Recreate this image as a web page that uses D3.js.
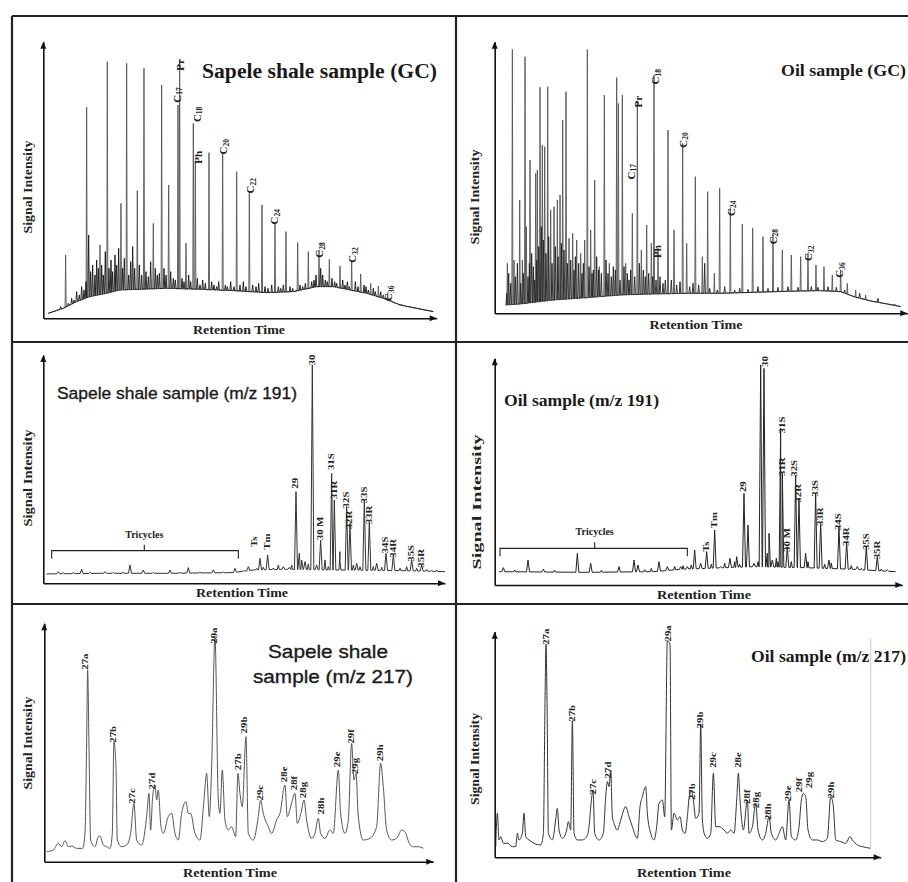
<!DOCTYPE html>
<html><head><meta charset="utf-8">
<script src="https://cdn.jsdelivr.net/npm/d3@7"></script>
<style>html,body{margin:0;padding:0;background:#fff;}svg{display:block;}</style>
</head><body>
<svg id="chart" width="908" height="882"></svg>
<script>
// ---------------- DATA (retention time index t, signal intensity I, arbitrary units) ----------------
// Panel 1: Sapele shale sample (GC)
const gcShaleBaseline = [[15,15],[60,30],[100,50],[140,65],[190,75],[230,85],[290,87],[370,90],[470,87],[570,83],[670,77],[750,80],[820,95],[870,95],[920,85],[970,75],[1020,60],[1070,40],[1120,30],[1170,20]];
const gcShalePeaks = [[67,190],[130,633],[170,220],[192,770],[233,345],[250,765],[282,383],[302,750],[330,285],[355,700],[376,400],[404,640],[409,775],[428,225],[450,585],[456,470],[497,497],[538,497],[580,440],[618,375],[656,340],[695,283],[728,260],[763,227],[795,200],[827,205],[858,177],[890,157],[925,170],[952,133],[982,105],[1005,97],[1033,75]];
const gcShaleMinor = [[40,25],[52,35],[75,45],[85,60],[92,55],[100,80],[108,70],[115,95],[122,85],[128,110],[136,250],[142,140],[148,160],[155,130],[160,175],[165,150],[175,160],[180,130],[186,200],[197,150],[203,175],[208,140],[215,190],[220,160],[226,210],[238,150],[243,180],[256,130],[262,170],[268,215],[274,150],[288,160],[295,130],[308,140],[315,125],[322,170],[336,150],[342,130],[348,135],[362,150],[368,130],[382,140],[390,120],[396,115],[416,120],[422,110],[436,130],[442,110],[462,120],[470,100],[478,115],[486,105],[505,110],[512,100],[520,95],[526,110],[546,100],[552,95],[562,110],[572,95],[590,100],[600,110],[608,95],[628,100],[638,95],[646,105],[665,95],[674,90],[685,100],[705,95],[712,90],[720,100],[740,95],[748,90],[770,100],[778,95],[786,105],[805,110],[812,115],[818,130],[832,150],[838,130],[846,115],[852,110],[866,120],[874,110],[880,105],[898,115],[905,100],[912,110],[918,95],[936,110],[944,95],[962,100],[968,95],[975,85],[990,90],[996,80],[1012,80],[1020,70],[1042,55],[1050,50],[1062,45],[1075,42],[1090,35]];
const gcShaleLabels = [["C","17",400,670],["Pr","",411,760],["C","18",460,612],["Ph","",465,483],["C","20",540,515],["C","22",620,398],["C","24",692,305],["C","28",827,205],["C","32",926,190],["C","36",1034,75]];

// Panel 2: Oil sample (GC)
const gcOilBaseline = [[33,25],[78,28],[178,40],[278,47],[378,55],[478,58],[578,60],[678,60],[778,63],[878,66],[978,68],[1038,65],[1078,50],[1128,37],[1178,28],[1218,20]];
const gcOilPeaks = [[38,150],[53,792],[58,160],[75,340],[83,160],[91,770],[95,260],[106,460],[123,420],[128,430],[136,678],[143,505],[150,500],[159,680],[168,310],[178,320],[188,340],[196,355],[204,580],[214,665],[223,225],[234,240],[246,220],[258,180],[270,220],[278,792],[288,250],[300,400],[314,140],[329,655],[344,150],[366,707],[371,630],[383,655],[393,150],[413,300],[428,635],[440,190],[456,265],[470,210],[478,715],[490,195],[520,550],[538,250],[564,510],[576,210],[602,410],[623,170],[639,365],[659,120],[675,375],[707,315],[743,268],[774,255],[805,230],[835,235],[863,190],[890,175],[918,170],[940,180],[964,145],[988,140],[1013,115],[1038,130],[1058,90],[1083,70],[1113,55]];
const gcOilMinor = [[36,60],[42,120],[48,90],[62,110],[68,150],[78,90],[86,120],[100,110],[104,150],[111,180],[116,140],[120,100],[126,160],[132,200],[140,260],[146,220],[154,180],[162,230],[172,150],[182,200],[190,170],[200,210],[208,190],[218,150],[228,160],[238,130],[242,170],[252,150],[262,120],[266,150],[283,140],[292,120],[296,130],[306,170],[312,130],[320,120],[334,160],[340,120],[350,110],[356,140],[362,130],[376,100],[388,140],[398,120],[403,100],[408,130],[420,110],[434,150],[446,130],[452,110],[462,120],[474,110],[484,100],[496,110],[505,90],[512,100],[530,100],[546,85],[556,95],[585,80],[595,90],[612,85],[630,150],[645,75],[668,70],[690,80],[720,70],[735,75],[760,72],[790,80],[820,75],[850,78],[880,80],[910,78],[950,80],[970,78],[1000,80],[1025,78],[1050,70],[1095,60],[1150,45],[1200,28]];
const gcOilLabels = [["C","17",408,425],["Pr","",431,635],["C","18",481,710],["Ph","",486,185],["C","20",564,520],["C","24",708,315],["C","28",834,230],["C","32",941,180],["C","36",1034,130]];

// Panel 3: Sapele shale sample (m/z 191)
const hopShaleBaseline = [[10,28],[170,30],[370,30],[570,32],[630,40],[720,42],[870,40],[1070,38],[1205,35]];
const hopShalePeaks = [[45,35],[115,42],[185,35],[260,55],[300,40],[380,40],[435,47],[510,40],[575,45],[615,50],[650,75],[673,85],[720,50],[738,48],[758,275],[768,90],[775,70],[785,65],[807,655],[820,55],[832,130],[865,330],[873,250],[890,95],[910,230],[920,180],[940,60],[963,250],[978,185],[1000,60],[1028,90],[1050,85],[1105,70],[1135,55],[1165,38]];
const hopShaleMinor = [[60,32],[90,33],[140,33],[210,33],[240,34],[330,33],[410,33],[470,34],[540,34],[600,38],[640,45],[660,48],[690,46],[705,55],[745,55],[795,58],[845,70],[855,50],[890,65],[930,55],[950,50],[990,50],[1015,48],[1070,45],[1090,50],[1120,45],[1150,42],[1180,40]];
const hopShaleLabels = [["Ts",635,125],["Tm",673,125],["29",758,300],["30",807,670],["30 M",832,165],["31S",865,365],["31R",873,280],["32S",910,250],["32R",920,190],["33S",963,265],["33R",978,205],["34S",1028,115],["34R",1050,105],["35S",1105,90],["35R",1135,75]];
const hopShaleTricycles = [25, 585, 303]; // start, end, centre retention index

// Panel 4: Oil sample (m/z 191)
const hopOilBaseline = [[13,40],[278,38],[478,40],[558,47],[638,50],[778,55],[928,52],[1078,47],[1203,40]];
const hopOilPeaks = [[26,52],[100,75],[146,47],[248,95],[288,65],[373,55],[418,75],[430,60],[493,70],[518,55],[558,55],[578,55],[600,105],[618,65],[636,100],[660,165],[678,55],[706,80],[726,85],[748,275],[760,180],[778,65],[798,660],[808,650],[818,95],[823,155],[833,75],[858,470],[863,335],[878,115],[903,330],[913,260],[933,95],[963,275],[978,185],[1003,75],[1033,175],[1056,130],[1088,55],[1115,115],[1148,85],[1178,45]];
const hopOilMinor = [[60,45],[180,44],[320,44],[450,46],[470,50],[540,56],[565,58],[590,60],[650,62],[690,65],[720,70],[735,62],[790,70],[845,80],[850,70],[890,70],[940,70],[990,62],[1010,66],[1070,58],[1100,50],[1160,48]];
const hopOilLabels = [["Ts",636,115],["Tm",660,195],["29",748,295],["30",813,670],["31S",863,480],["31R",863,355],["30 M",878,135],["32S",900,350],["32R",913,275],["33S",963,290],["33R",978,205],["34S",1033,190],["34R",1056,145],["35S",1115,130],["35R",1148,105]];
const hopOilTricycles = [16, 578, 300];

// Panel 5: Sapele shale sample (m/z 217)
const sterShaleTrace = [[7,30],[27,35],[42,55],[52,45],[62,63],[72,45],[82,47],[97,40],[115,40],[122,85],[127,355],[130,575],[134,355],[139,65],[152,45],[162,75],[167,77],[177,50],[187,45],[197,40],[204,85],[209,360],[215,285],[219,65],[232,45],[247,50],[259,85],[269,175],[277,65],[292,50],[307,135],[314,205],[319,95],[325,195],[332,230],[337,185],[342,215],[350,105],[357,85],[372,135],[382,145],[392,85],[402,65],[412,145],[425,180],[432,145],[439,145],[452,85],[467,65],[479,185],[487,265],[495,135],[502,285],[512,675],[522,185],[527,145],[534,275],[542,125],[552,95],[562,105],[574,75],[581,265],[587,205],[594,165],[605,375],[612,85],[627,65],[642,135],[649,185],[657,145],[672,105],[682,85],[697,125],[707,145],[722,230],[729,135],[739,165],[752,205],[759,115],[772,155],[779,185],[787,125],[802,70],[812,85],[822,130],[829,85],[842,70],[857,95],[867,85],[882,275],[889,145],[902,85],[912,125],[922,355],[929,245],[935,265],[942,135],[957,65],[977,70],[997,105],[1009,295],[1017,225],[1027,95],[1042,65],[1057,70],[1072,95],[1082,90],[1095,55],[1107,45],[1122,45],[1137,40]];
const sterShaleLabels = [["27a",125,600],["27b",209,382],["27c",264,197],["27d",325,242],["29a",512,678],["27b",582,300],["29b",602,410],["29c",650,207],["28e",722,262],["28f",752,236],["28g",779,215],["28h",832,167],["29e",880,307],["29f",922,376],["29g",935,287],["29h",1009,327]];

// Panel 6: Oil sample (m/z 217)
const sterOilTrace = [[3,32],[8,132],[13,52],[18,62],[26,42],[38,42],[53,32],[63,32],[68,72],[73,52],[83,72],[88,132],[93,62],[103,52],[118,42],[138,37],[146,72],[151,472],[154,640],[157,472],[161,72],[173,52],[183,112],[188,147],[193,82],[203,57],[216,82],[221,107],[228,82],[233,410],[238,72],[248,52],[263,52],[276,62],[283,92],[290,172],[295,202],[300,72],[313,52],[326,72],[333,182],[338,227],[343,212],[348,262],[353,122],[358,102],[368,82],[378,112],[393,152],[403,122],[413,92],[428,57],[436,152],[443,182],[453,212],[458,132],[468,72],[478,52],[486,92],[493,162],[503,172],[510,122],[518,650],[526,640],[530,82],[538,132],[548,112],[556,122],[563,82],[571,72],[578,122],[583,177],[590,202],[596,172],[603,117],[613,132],[618,400],[623,112],[630,67],[638,57],[648,72],[656,252],[663,92],[673,92],[688,82],[698,72],[708,82],[718,72],[726,172],[731,252],[736,172],[746,82],[758,172],[763,72],[773,92],[783,162],[790,82],[803,52],[813,72],[823,122],[830,72],[843,52],[853,72],[863,92],[873,52],[883,172],[890,62],[903,52],[913,92],[920,172],[926,192],[933,182],[940,82],[953,52],[968,52],[983,47],[998,57],[1008,182],[1016,152],[1023,52],[1038,47],[1053,42],[1066,62],[1073,52],[1088,37],[1103,32],[1128,27]];
const sterOilLabels = [["27a",155,662],["27b",233,432],["27c",298,212],["27d",341,262],["29a",523,672],["27b",593,197],["29b",618,412],["29c",658,292],["28e",731,292],["28f",760,182],["28g",785,172],["28h",823,137],["29e",881,192],["29f",916,217],["29g",946,232],["29h",1011,202]];
const sterOilCutoff = [1128, 27, 657];

// Text
const titles = ["Sapele shale sample (GC)", "Oil sample (GC)", "Sapele shale sample (m/z 191)", "Oil sample (m/z 191)", ["Sapele shale", "sample (m/z 217)"], "Oil sample (m/z 217)"];
const yAxisTitle = "Signal Intensity";
const xAxisTitle = "Retention Time";
const bracketText = "Tricycles";

// ---------------- LAYOUT ----------------
const panels = [
  {kind:"gc", base:gcShaleBaseline, peaks:gcShalePeaks, minor:gcShaleMinor, labels:gcShaleLabels, title:titles[0],
   tMax:1180, iMax:830, xr:[43.3,436.7], yr:[318.3,41.7], stroke:"#555", dark:"#151515",
   tt:{x:202,y:78,len:235,size:20,font:"serif",anchor:"start"},
   yl:{x:28,y:187,len:93}, xl:{x:239,y:334,len:92}},
  {kind:"gc", base:gcOilBaseline, peaks:gcOilPeaks, minor:gcOilMinor, labels:gcOilLabels, title:titles[1],
   tMax:1238, iMax:815, xr:[494.7,907.3], yr:[313.3,41.7], stroke:"#555", dark:"#202020",
   tt:{x:781,y:76,len:125,size:16,font:"serif",anchor:"start"},
   yl:{x:475,y:197,len:95}, xl:{x:696,y:329,len:93}},
  {kind:"hop", base:hopShaleBaseline, peaks:hopShalePeaks, minor:hopShaleMinor, labels:hopShaleLabels, tri:hopShaleTricycles, bracketI:98, title:titles[2],
   tMax:1205, iMax:685, xr:[43.3,445], yr:[583.3,355], stroke:"#333",
   tt:{x:57,y:399,len:240,size:17,font:"sans",anchor:"start"},
   yl:{x:28,y:478,len:97}, xl:{x:242,y:597,len:92}},
  {kind:"hop", base:hopOilBaseline, peaks:hopOilPeaks, minor:hopOilMinor, labels:hopOilLabels, tri:hopOilTricycles, bracketI:110, title:titles[3],
   tMax:1223, iMax:680, xr:[494.7,902.3], yr:[585,358.3], stroke:"#222",
   tt:{x:504,y:406,len:155,size:16,font:"serif",anchor:"start"},
   yl:{x:477,y:502,len:135}, xl:{x:704,y:599,len:94}},
  {kind:"ster", trace:sterShaleTrace, labels:sterShaleLabels, title:titles[4],
   tMax:1167, iMax:715, xr:[44.3,433.3], yr:[861.7,623.3], stroke:"#555",
   tt:{x:[328,333],y:[658,683],len:[120,160],size:19,font:"sans",anchor:"middle"},
   yl:{x:28,y:743,len:93}, xl:{x:230,y:877,len:94}},
  {kind:"ster", trace:sterOilTrace, labels:sterOilLabels, cutoff:sterOilCutoff, title:titles[5],
   tMax:1158, iMax:677, xr:[494.7,880.7], yr:[857.3,631.7], stroke:"#333",
   tt:{x:751,y:662,len:155,size:16,font:"serif",anchor:"start"},
   yl:{x:475,y:759,len:92}, xl:{x:684,y:877,len:94}}
];

const SERIF = "'Liberation Serif','Times New Roman',serif";
const SANS = "'Liberation Sans',Arial,sans-serif";

const svg = d3.select("#chart");

// frame
const frame = [[[12,16],[908,16]],[[12,16],[12,882]],[[456,16],[456,882]],[[12,342],[908,342]],[[12,604],[908,604]]];
svg.append("g").selectAll("path").data(frame).join("path")
  .attr("d", d => d3.line()(d)).attr("stroke","#222").attr("stroke-width",2.2).attr("fill","none");

function buildTrace(baseline, sets) {
  const base = d3.scaleLinear().domain(baseline.map(d => d[0])).range(baseline.map(d => d[1])).clamp(true);
  const pts = [], spans = [];
  sets.forEach(s => s.peaks.forEach(([t, v]) => {
    pts.push([t - s.w, base(t - s.w)], [t, v], [t + s.w, base(t + s.w)]);
    spans.push([t - s.w, t + s.w]);
  }));
  baseline.forEach(p => { if (!spans.some(s => p[0] > s[0] && p[0] < s[1])) pts.push(p); });
  pts.sort((a, b) => a[0] - b[0]);
  return pts;
}

panels.forEach(p => {
  const g = svg.append("g");
  const x = d3.scaleLinear().domain([0, p.tMax]).range(p.xr);
  const y = d3.scaleLinear().domain([0, p.iMax]).range(p.yr);

  const line = d3.line().x(d => x(d[0])).y(d => y(d[1]));
  if (p.kind === "gc") {
    // tall peaks (grey) and dense low-level signal (dark)
    g.append("path").datum(buildTrace(p.base, [{peaks:p.peaks, w:1.6}])).attr("d", line).attr("fill","none")
      .attr("stroke", p.stroke).attr("stroke-width", 0.9);
    g.append("path").datum(buildTrace(p.base, [{peaks:p.minor, w:2.2}])).attr("d", line).attr("fill","none")
      .attr("stroke", p.dark).attr("stroke-width", 0.9).attr("stroke-linejoin","round");
  } else if (p.kind === "hop") {
    g.append("path").datum(buildTrace(p.base, [{peaks:p.peaks, w:4.5}, {peaks:p.minor, w:3}])).attr("d", line).attr("fill","none")
      .attr("stroke", p.stroke).attr("stroke-width", 1).attr("stroke-linejoin","round");
  } else {
    g.append("path").datum(p.trace).attr("d", line.curve(d3.curveMonotoneX)).attr("fill","none")
      .attr("stroke", p.stroke).attr("stroke-width", 1).attr("stroke-linejoin","round");
  }

  if (p.cutoff) {
    g.append("line").attr("x1", x(p.cutoff[0])).attr("x2", x(p.cutoff[0]))
      .attr("y1", y(p.cutoff[1])).attr("y2", y(p.cutoff[2])).attr("stroke","#bbb").attr("stroke-width",0.8);
  }

  // axes (no ticks) with arrowheads
  const xa = g.append("g").attr("transform", `translate(0,${y(0)})`)
    .call(d3.axisBottom(x).tickValues([]).tickSizeOuter(0));
  const ya = g.append("g").attr("transform", `translate(${x(0)},0)`)
    .call(d3.axisLeft(y).tickValues([]).tickSizeOuter(0));
  [xa, ya].forEach(a => a.select(".domain").attr("stroke","#111").attr("stroke-width",1.6));
  const ax = x(p.tMax), ay = y(0), bx = x(0), by = y(p.iMax);
  g.append("path").attr("d", `M${ax},${ay}L${ax-7},${ay-3}L${ax-7},${ay+3}Z`).attr("fill","#111");
  g.append("path").attr("d", `M${bx},${by}L${bx-3},${by+7}L${bx+3},${by+7}Z`).attr("fill","#111");

  // axis titles
  g.append("text").attr("transform", `translate(${p.yl.x},${p.yl.y}) rotate(-90)`)
    .attr("text-anchor","middle").attr("dominant-baseline","central")
    .attr("textLength", p.yl.len).attr("lengthAdjust","spacingAndGlyphs")
    .style("font-family", SERIF).style("font-weight","bold").style("font-size","12px").attr("fill","#222")
    .text(yAxisTitle);
  g.append("text").attr("x", p.xl.x).attr("y", p.xl.y).attr("text-anchor","middle")
    .attr("textLength", p.xl.len).attr("lengthAdjust","spacingAndGlyphs")
    .style("font-family", SERIF).style("font-weight","bold").style("font-size","12px").attr("fill","#222")
    .text(xAxisTitle);

  // panel title
  const lines = Array.isArray(p.title) ? p.title : [p.title];
  lines.forEach((t, i) => {
    const tx = Array.isArray(p.tt.x) ? p.tt.x[i] : p.tt.x;
    const ty = Array.isArray(p.tt.y) ? p.tt.y[i] : p.tt.y;
    const tl = Array.isArray(p.tt.len) ? p.tt.len[i] : p.tt.len;
    g.append("text").attr("x", tx).attr("y", ty).attr("text-anchor", p.tt.anchor)
      .attr("textLength", tl).attr("lengthAdjust","spacingAndGlyphs")
      .style("font-family", p.tt.font === "serif" ? SERIF : SANS)
      .style("font-weight", p.tt.font === "serif" ? "bold" : "normal")
      .style("font-size", p.tt.size + "px").attr("fill","#1a1a1a")
      .attr("stroke", p.tt.font === "serif" ? "none" : "#1a1a1a").attr("stroke-width", 0.35)
      .text(t);
  });

  // peak labels
  if (p.kind === "gc") {
    const lt = g.selectAll(".pk").data(p.labels).join("text")
      .attr("transform", d => `translate(${x(d[2])},${y(d[3])}) rotate(-90)`)
      .attr("text-anchor","middle").attr("dominant-baseline","central")
      .style("font-family", SERIF).style("font-weight","bold").style("font-size","11px").attr("fill","#222");
    lt.append("tspan").text(d => d[0]);
    lt.append("tspan").attr("dy", 2.5).style("font-size","7.5px").text(d => d[1]);
  } else {
    g.selectAll(".pk").data(p.labels).join("text")
      .attr("transform", d => `translate(${x(d[1])},${y(d[2])}) rotate(-90) scale(1.45,1)`)
      .attr("text-anchor","middle").attr("dominant-baseline","central")
      .style("font-family", SERIF).style("font-weight","bold").style("font-size","7.5px").attr("fill","#222")
      .text(d => d[0]);
  }

  // tricycles bracket
  if (p.tri) {
    const [t0, t1, tc] = p.tri;
    const yb = y(p.bracketI);
    const yd = yb + 8;
    g.append("path").attr("d", `M${x(t0)},${yd}V${yb}H${x(t1)}V${yd}M${x(tc)},${yb}V${yb-6}`)
      .attr("fill","none").attr("stroke","#222").attr("stroke-width",1.1);
    g.append("text").attr("x", x(tc)).attr("y", yb - 13).attr("text-anchor","middle")
      .style("font-family", SERIF).style("font-weight","bold").style("font-size","10px").attr("fill","#222")
      .text(bracketText);
  }
});
</script>
</body></html>
